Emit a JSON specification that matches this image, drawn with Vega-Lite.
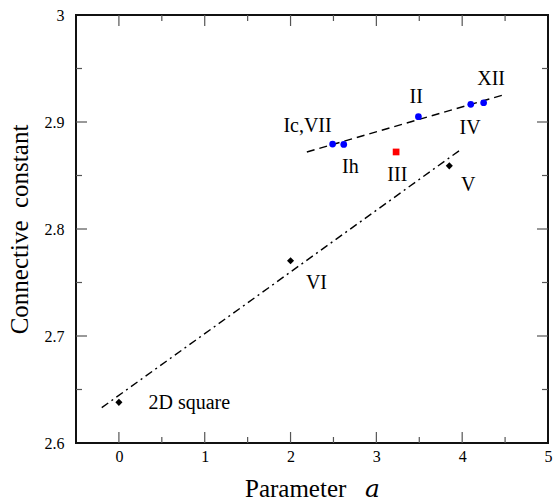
{
  "$schema": "https://vega.github.io/schema/vega-lite/v6.json",
  "autosize": {"type": "none"},
  "width": 472,
  "height": 428,
  "padding": {"left": 76, "top": 15, "right": 7, "bottom": 59},
  "background": "white",
  "config": {
    "view": {"stroke": "#111", "strokeWidth": 2},
    "font": "Liberation Serif",
    "axis": {"grid": false, "labelFont": "Liberation Serif", "titleFont": "Liberation Serif, DejaVu Serif", "labelColor": "black", "titleColor": "black", "titleFontWeight": "normal"}
  },
  "datasets": {
    "lines": [
      {"series": "dash", "x": 2.19, "y": 2.872},
      {"series": "dash", "x": 4.49, "y": 2.9255},
      {"series": "dashdot", "x": -0.2, "y": 2.633},
      {"series": "dashdot", "x": 3.98, "y": 2.874}
    ],
    "blue": [
      {"name": "Ic,VII", "x": 2.49, "y": 2.8794},
      {"name": "Ih", "x": 2.62, "y": 2.879},
      {"name": "II", "x": 3.49, "y": 2.905},
      {"name": "IV", "x": 4.1, "y": 2.9165},
      {"name": "XII", "x": 4.25, "y": 2.918}
    ],
    "red": [
      {"name": "III", "x": 3.23, "y": 2.872}
    ],
    "black": [
      {"name": "2D square", "x": 0.0, "y": 2.638},
      {"name": "VI", "x": 2.0, "y": 2.7704},
      {"name": "V", "x": 3.85, "y": 2.859}
    ],
    "labels": [
      {"text": "Ic,VII", "x": 2.198, "y": 2.8965},
      {"text": "Ih", "x": 2.698, "y": 2.858},
      {"text": "II", "x": 3.465, "y": 2.9234},
      {"text": "III", "x": 3.244, "y": 2.8505},
      {"text": "IV", "x": 4.093, "y": 2.8944},
      {"text": "XII", "x": 4.337, "y": 2.94},
      {"text": "V", "x": 4.07, "y": 2.841},
      {"text": "VI", "x": 2.302, "y": 2.7495},
      {"text": "2D square", "x": 0.82, "y": 2.6374}
    ],
    "xticks": [
      {"v": 0, "kind": "major"}, {"v": 0.5, "kind": "minor"},
      {"v": 1, "kind": "major"}, {"v": 1.5, "kind": "minor"},
      {"v": 2, "kind": "major"}, {"v": 2.5, "kind": "minor"},
      {"v": 3, "kind": "major"}, {"v": 3.5, "kind": "minor"},
      {"v": 4, "kind": "major"}, {"v": 4.5, "kind": "minor"}
    ],
    "yticks": [
      {"v": 2.65, "kind": "minor"}, {"v": 2.7, "kind": "major"},
      {"v": 2.75, "kind": "minor"}, {"v": 2.8, "kind": "major"},
      {"v": 2.85, "kind": "minor"}, {"v": 2.9, "kind": "major"},
      {"v": 2.95, "kind": "minor"}
    ]
  },
  "layer": [
    {
      "data": {"name": "lines"},
      "mark": {"type": "line", "color": "black", "strokeWidth": 1.4},
      "encoding": {
        "x": {"field": "x", "type": "quantitative", "scale": {"domain": [-0.5, 5], "nice": false, "zero": false},
          "axis": {"orient": "bottom", "values": [0, 1, 2, 3, 4, 5], "format": "d", "ticks": false, "domain": false, "labelFontSize": 16, "labelPadding": 5, "labelFlush": false, "title": "Parameter\u00a0\u00a0\u00a0𝑎", "titleFontSize": 25, "titlePadding": 12}},
        "y": {"field": "y", "type": "quantitative", "scale": {"domain": [2.6, 3.0], "nice": false, "zero": false},
          "axis": {"orient": "left", "values": [2.6, 2.7, 2.8, 2.9, 3.0], "format": "~g", "ticks": false, "domain": false, "labelFontSize": 16, "labelPadding": 12, "labelFlush": false, "title": "Connective\u00a0\u00a0constant", "titleFontSize": 25, "titlePadding": 12}},
        "detail": {"field": "series"},
        "strokeDash": {"field": "series", "type": "nominal", "scale": {"domain": ["dash", "dashdot"], "range": [[8, 5], [8, 4, 2, 4]]}, "legend": null}
      }
    },
    {
      "data": {"name": "xticks"},
      "transform": [{"filter": "datum.kind == 'major'"}],
      "mark": {"type": "tick", "orient": "vertical", "size": 11, "thickness": 1.2, "color": "#555", "opacity": 1, "yOffset": -5.5},
      "encoding": {"x": {"field": "v", "type": "quantitative"}, "y": {"datum": 2.6, "type": "quantitative"}}
    },
    {
      "data": {"name": "xticks"},
      "transform": [{"filter": "datum.kind == 'minor'"}],
      "mark": {"type": "tick", "orient": "vertical", "size": 6, "thickness": 1.2, "color": "#555", "opacity": 1, "yOffset": -3},
      "encoding": {"x": {"field": "v", "type": "quantitative"}, "y": {"datum": 2.6, "type": "quantitative"}}
    },
    {
      "data": {"name": "xticks"},
      "transform": [{"filter": "datum.kind == 'major'"}],
      "mark": {"type": "tick", "orient": "vertical", "size": 11, "thickness": 1.2, "color": "#555", "opacity": 1, "yOffset": 5.5},
      "encoding": {"x": {"field": "v", "type": "quantitative"}, "y": {"datum": 3.0, "type": "quantitative"}}
    },
    {
      "data": {"name": "xticks"},
      "transform": [{"filter": "datum.kind == 'minor'"}],
      "mark": {"type": "tick", "orient": "vertical", "size": 6, "thickness": 1.2, "color": "#555", "opacity": 1, "yOffset": 3},
      "encoding": {"x": {"field": "v", "type": "quantitative"}, "y": {"datum": 3.0, "type": "quantitative"}}
    },
    {
      "data": {"name": "yticks"},
      "transform": [{"filter": "datum.kind == 'major'"}],
      "mark": {"type": "tick", "orient": "horizontal", "size": 11, "thickness": 1.2, "color": "#555", "opacity": 1, "xOffset": 5.5},
      "encoding": {"y": {"field": "v", "type": "quantitative"}, "x": {"datum": -0.5, "type": "quantitative"}}
    },
    {
      "data": {"name": "yticks"},
      "transform": [{"filter": "datum.kind == 'minor'"}],
      "mark": {"type": "tick", "orient": "horizontal", "size": 6, "thickness": 1.2, "color": "#555", "opacity": 1, "xOffset": 3},
      "encoding": {"y": {"field": "v", "type": "quantitative"}, "x": {"datum": -0.5, "type": "quantitative"}}
    },
    {
      "data": {"name": "yticks"},
      "transform": [{"filter": "datum.kind == 'major'"}],
      "mark": {"type": "tick", "orient": "horizontal", "size": 11, "thickness": 1.2, "color": "#555", "opacity": 1, "xOffset": -5.5},
      "encoding": {"y": {"field": "v", "type": "quantitative"}, "x": {"datum": 5, "type": "quantitative"}}
    },
    {
      "data": {"name": "yticks"},
      "transform": [{"filter": "datum.kind == 'minor'"}],
      "mark": {"type": "tick", "orient": "horizontal", "size": 6, "thickness": 1.2, "color": "#555", "opacity": 1, "xOffset": -3},
      "encoding": {"y": {"field": "v", "type": "quantitative"}, "x": {"datum": 5, "type": "quantitative"}}
    },
    {
      "data": {"name": "blue"},
      "mark": {"type": "circle", "color": "#0000ff", "opacity": 1, "size": 45},
      "encoding": {"x": {"field": "x", "type": "quantitative"}, "y": {"field": "y", "type": "quantitative"}}
    },
    {
      "data": {"name": "red"},
      "mark": {"type": "square", "color": "#ff0000", "opacity": 1, "size": 45, "filled": true},
      "encoding": {"x": {"field": "x", "type": "quantitative"}, "y": {"field": "y", "type": "quantitative"}}
    },
    {
      "data": {"name": "black"},
      "mark": {"type": "point", "shape": "diamond", "color": "black", "filled": true, "opacity": 1, "size": 50},
      "encoding": {"x": {"field": "x", "type": "quantitative"}, "y": {"field": "y", "type": "quantitative"}}
    },
    {
      "data": {"name": "labels"},
      "mark": {"type": "text", "font": "Liberation Serif", "fontSize": 20, "color": "black", "align": "center", "baseline": "middle"},
      "encoding": {"x": {"field": "x", "type": "quantitative"}, "y": {"field": "y", "type": "quantitative"}, "text": {"field": "text"}}
    }
  ]
}
